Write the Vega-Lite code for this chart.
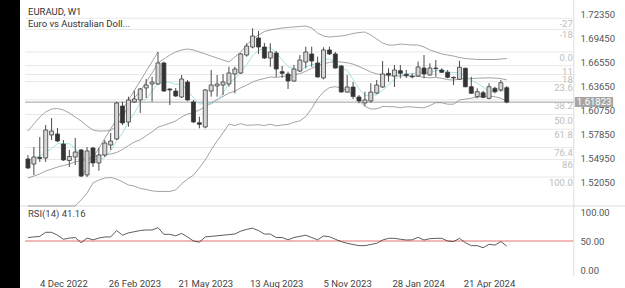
{
"$schema": "https://vega.github.io/schema/vega-lite/v6.json",
"width": 605, "height": 288, "autosize": "none",
"padding": {"left": 20, "top": 0, "right": 0, "bottom": 0},
"background": "#000000",
"config": {"view": {"fill": "#ffffff", "stroke": null}, "font": "Roboto",
  "axis": {"grid": false, "ticks": false, "tickSize": 0, "domain": false, "labelFont": "Roboto", "labelFontSize": 9.5, "labelColor": "#555555"}},
"datasets": {
"c": [
{"d":"2022-10-23","o":1.5495,"h":1.5543,"l":1.5374,"c":1.5386,"up":1.5833,"mid":1.5265,"lo":1.4697,"ma":1.5483,"rsi":56},
{"d":"2022-10-30","o":1.5434,"h":1.5640,"l":1.5302,"c":1.5519,"up":1.5918,"mid":1.5289,"lo":1.4660,"ma":1.5507,"rsi":57},
{"d":"2022-11-06","o":1.5515,"h":1.5761,"l":1.5459,"c":1.5501,"up":1.6002,"mid":1.5314,"lo":1.4626,"ma":1.5531,"rsi":58},
{"d":"2022-11-13","o":1.5507,"h":1.5906,"l":1.5459,"c":1.5845,"up":1.6063,"mid":1.5350,"lo":1.4637,"ma":1.5579,"rsi":65},
{"d":"2022-11-20","o":1.5785,"h":1.5990,"l":1.5724,"c":1.5833,"up":1.6099,"mid":1.5374,"lo":1.4649,"ma":1.5618,"rsi":65},
{"d":"2022-11-27","o":1.5797,"h":1.5869,"l":1.5700,"c":1.5712,"up":1.6105,"mid":1.5398,"lo":1.4691,"ma":1.5683,"rsi":60},
{"d":"2022-12-04","o":1.5676,"h":1.5724,"l":1.5471,"c":1.5483,"up":1.6087,"mid":1.5416,"lo":1.4745,"ma":1.5676,"rsi":53},
{"d":"2022-12-11","o":1.5477,"h":1.5604,"l":1.5398,"c":1.5525,"up":1.6051,"mid":1.5434,"lo":1.4817,"ma":1.5680,"rsi":55},
{"d":"2022-12-18","o":1.5519,"h":1.5749,"l":1.5422,"c":1.5579,"up":1.6002,"mid":1.5459,"lo":1.4916,"ma":1.5626,"rsi":56},
{"d":"2022-12-25","o":1.5604,"h":1.5616,"l":1.5277,"c":1.5289,"up":1.5954,"mid":1.5477,"lo":1.5000,"ma":1.5518,"rsi":47},
{"d":"2023-01-01","o":1.5302,"h":1.5640,"l":1.5277,"c":1.5592,"up":1.5894,"mid":1.5489,"lo":1.5084,"ma":1.5494,"rsi":55},
{"d":"2023-01-08","o":1.5628,"h":1.5640,"l":1.5398,"c":1.5447,"up":1.5845,"mid":1.5525,"lo":1.5205,"ma":1.5486,"rsi":52},
{"d":"2023-01-15","o":1.5447,"h":1.5628,"l":1.5353,"c":1.5543,"up":1.5833,"mid":1.5537,"lo":1.5241,"ma":1.5490,"rsi":55},
{"d":"2023-01-22","o":1.5543,"h":1.5724,"l":1.5519,"c":1.5688,"up":1.5833,"mid":1.5549,"lo":1.5265,"ma":1.5512,"rsi":57},
{"d":"2023-01-29","o":1.5664,"h":1.5809,"l":1.5604,"c":1.5712,"up":1.5839,"mid":1.5555,"lo":1.5271,"ma":1.5596,"rsi":57},
{"d":"2023-02-05","o":1.5737,"h":1.6187,"l":1.5724,"c":1.6172,"up":1.5894,"mid":1.5573,"lo":1.5252,"ma":1.5712,"rsi":68},
{"d":"2023-02-12","o":1.6135,"h":1.6187,"l":1.5906,"c":1.5930,"up":1.6002,"mid":1.5610,"lo":1.5218,"ma":1.5809,"rsi":60},
{"d":"2023-02-19","o":1.5942,"h":1.6248,"l":1.5885,"c":1.6208,"up":1.6135,"mid":1.5658,"lo":1.5181,"ma":1.5942,"rsi":64},
{"d":"2023-02-26","o":1.6184,"h":1.6320,"l":1.6172,"c":1.6220,"up":1.6232,"mid":1.5700,"lo":1.5168,"ma":1.6048,"rsi":66},
{"d":"2023-03-05","o":1.6208,"h":1.6353,"l":1.6051,"c":1.6341,"up":1.6316,"mid":1.5727,"lo":1.5138,"ma":1.6174,"rsi":68},
{"d":"2023-03-12","o":1.6353,"h":1.6461,"l":1.6232,"c":1.6389,"up":1.6425,"mid":1.5776,"lo":1.5127,"ma":1.6217,"rsi":69},
{"d":"2023-03-19","o":1.6401,"h":1.6489,"l":1.6187,"c":1.6425,"up":1.6534,"mid":1.5822,"lo":1.5110,"ma":1.6316,"rsi":69},
{"d":"2023-03-26","o":1.6401,"h":1.6788,"l":1.6389,"c":1.6655,"up":1.6655,"mid":1.5879,"lo":1.5103,"ma":1.6406,"rsi":73},
{"d":"2023-04-02","o":1.6655,"h":1.6671,"l":1.6308,"c":1.6316,"up":1.6703,"mid":1.5903,"lo":1.5103,"ma":1.6425,"rsi":61.5},
{"d":"2023-04-09","o":1.6341,"h":1.6349,"l":1.6147,"c":1.6329,"up":1.6751,"mid":1.5927,"lo":1.5103,"ma":1.6423,"rsi":61.5},
{"d":"2023-04-16","o":1.6316,"h":1.6353,"l":1.6244,"c":1.6256,"up":1.6788,"mid":1.5955,"lo":1.5122,"ma":1.6396,"rsi":59},
{"d":"2023-04-23","o":1.6244,"h":1.6510,"l":1.6232,"c":1.6461,"up":1.6812,"mid":1.6004,"lo":1.5196,"ma":1.6403,"rsi":63},
{"d":"2023-04-30","o":1.6425,"h":1.6449,"l":1.6199,"c":1.6208,"up":1.6824,"mid":1.6038,"lo":1.5252,"ma":1.6314,"rsi":57},
{"d":"2023-05-07","o":1.6184,"h":1.6208,"l":1.5930,"c":1.5942,"up":1.6812,"mid":1.6056,"lo":1.5300,"ma":1.6239,"rsi":50},
{"d":"2023-05-14","o":1.5933,"h":1.6006,"l":1.5866,"c":1.5914,"up":1.6788,"mid":1.6088,"lo":1.5388,"ma":1.6157,"rsi":48},
{"d":"2023-05-21","o":1.5882,"h":1.6341,"l":1.5866,"c":1.6329,"up":1.6764,"mid":1.6124,"lo":1.5484,"ma":1.6172,"rsi":57},
{"d":"2023-05-28","o":1.6316,"h":1.6570,"l":1.6248,"c":1.6389,"up":1.6739,"mid":1.6172,"lo":1.5605,"ma":1.6157,"rsi":58},
{"d":"2023-06-04","o":1.6377,"h":1.6510,"l":1.6248,"c":1.6401,"up":1.6715,"mid":1.6214,"lo":1.5713,"ma":1.6196,"rsi":59},
{"d":"2023-06-11","o":1.6389,"h":1.6522,"l":1.6268,"c":1.6425,"up":1.6691,"mid":1.6251,"lo":1.5811,"ma":1.6292,"rsi":60},
{"d":"2023-06-18","o":1.6401,"h":1.6610,"l":1.6368,"c":1.6534,"up":1.6667,"mid":1.6292,"lo":1.5917,"ma":1.6416,"rsi":61},
{"d":"2023-06-25","o":1.6522,"h":1.6610,"l":1.6289,"c":1.6582,"up":1.6727,"mid":1.6313,"lo":1.5899,"ma":1.6466,"rsi":62},
{"d":"2023-07-02","o":1.6534,"h":1.6776,"l":1.6522,"c":1.6764,"up":1.6788,"mid":1.6355,"lo":1.5922,"ma":1.6541,"rsi":67},
{"d":"2023-07-09","o":1.6751,"h":1.6893,"l":1.6731,"c":1.6860,"up":1.6872,"mid":1.6387,"lo":1.5902,"ma":1.6633,"rsi":70},
{"d":"2023-07-16","o":1.6848,"h":1.7074,"l":1.6832,"c":1.6981,"up":1.6945,"mid":1.6425,"lo":1.5905,"ma":1.6744,"rsi":72},
{"d":"2023-07-23","o":1.6957,"h":1.7041,"l":1.6764,"c":1.6848,"up":1.6993,"mid":1.6451,"lo":1.5909,"ma":1.6807,"rsi":68},
{"d":"2023-07-30","o":1.6848,"h":1.6896,"l":1.6703,"c":1.6715,"up":1.7035,"mid":1.6467,"lo":1.5899,"ma":1.6834,"rsi":62},
{"d":"2023-08-06","o":1.6715,"h":1.6893,"l":1.6610,"c":1.6788,"up":1.7054,"mid":1.6485,"lo":1.5916,"ma":1.6838,"rsi":62},
{"d":"2023-08-13","o":1.6776,"h":1.6800,"l":1.6486,"c":1.6582,"up":1.7066,"mid":1.6481,"lo":1.5896,"ma":1.6783,"rsi":56},
{"d":"2023-08-20","o":1.6550,"h":1.6619,"l":1.6474,"c":1.6530,"up":1.7078,"mid":1.6492,"lo":1.5906,"ma":1.6693,"rsi":56},
{"d":"2023-08-27","o":1.6522,"h":1.6550,"l":1.6341,"c":1.6437,"up":1.7084,"mid":1.6498,"lo":1.5912,"ma":1.6611,"rsi":52},
{"d":"2023-09-03","o":1.6437,"h":1.6631,"l":1.6429,"c":1.6582,"up":1.7090,"mid":1.6514,"lo":1.5938,"ma":1.6585,"rsi":56},
{"d":"2023-09-10","o":1.6558,"h":1.6751,"l":1.6546,"c":1.6691,"up":1.7096,"mid":1.6526,"lo":1.5956,"ma":1.6565,"rsi":58},
{"d":"2023-09-17","o":1.6667,"h":1.6852,"l":1.6591,"c":1.6788,"up":1.7102,"mid":1.6555,"lo":1.6008,"ma":1.6606,"rsi":60},
{"d":"2023-09-24","o":1.6764,"h":1.6852,"l":1.6610,"c":1.6679,"up":1.7078,"mid":1.6591,"lo":1.6104,"ma":1.6635,"rsi":56},
{"d":"2023-10-01","o":1.6655,"h":1.6731,"l":1.6477,"c":1.6486,"up":1.7017,"mid":1.6620,"lo":1.6223,"ma":1.6645,"rsi":52},
{"d":"2023-10-08","o":1.6474,"h":1.6845,"l":1.6458,"c":1.6812,"up":1.6981,"mid":1.6644,"lo":1.6307,"ma":1.6691,"rsi":58.6},
{"d":"2023-10-15","o":1.6812,"h":1.6852,"l":1.6751,"c":1.6764,"up":1.6969,"mid":1.6663,"lo":1.6357,"ma":1.6706,"rsi":57.4},
{"d":"2023-10-22","o":1.6764,"h":1.6788,"l":1.6588,"c":1.6594,"up":1.6975,"mid":1.6672,"lo":1.6369,"ma":1.6667,"rsi":53},
{"d":"2023-10-29","o":1.6619,"h":1.6631,"l":1.6301,"c":1.6304,"up":1.6981,"mid":1.6666,"lo":1.6351,"ma":1.6592,"rsi":49},
{"d":"2023-11-05","o":1.6304,"h":1.6510,"l":1.6296,"c":1.6365,"up":1.6993,"mid":1.6658,"lo":1.6323,"ma":1.6568,"rsi":46},
{"d":"2023-11-12","o":1.6365,"h":1.6425,"l":1.6220,"c":1.6250,"up":1.7011,"mid":1.6641,"lo":1.6271,"ma":1.6455,"rsi":44},
{"d":"2023-11-19","o":1.6244,"h":1.6268,"l":1.6168,"c":1.6196,"up":1.7023,"mid":1.6612,"lo":1.6201,"ma":1.6342,"rsi":42},
{"d":"2023-11-26","o":1.6172,"h":1.6308,"l":1.6135,"c":1.6208,"up":1.7029,"mid":1.6580,"lo":1.6131,"ma":1.6265,"rsi":42},
{"d":"2023-12-03","o":1.6196,"h":1.6410,"l":1.6175,"c":1.6304,"up":1.6993,"mid":1.6546,"lo":1.6099,"ma":1.6265,"rsi":44},
{"d":"2023-12-10","o":1.6292,"h":1.6449,"l":1.6280,"c":1.6389,"up":1.6945,"mid":1.6523,"lo":1.6101,"ma":1.6269,"rsi":46},
{"d":"2023-12-17","o":1.6365,"h":1.6679,"l":1.6353,"c":1.6522,"up":1.6896,"mid":1.6513,"lo":1.6130,"ma":1.6324,"rsi":51.7},
{"d":"2023-12-24","o":1.6530,"h":1.6591,"l":1.6429,"c":1.6510,"up":1.6872,"mid":1.6500,"lo":1.6128,"ma":1.6388,"rsi":54.6},
{"d":"2023-12-31","o":1.6498,"h":1.6631,"l":1.6365,"c":1.6570,"up":1.6872,"mid":1.6499,"lo":1.6126,"ma":1.6460,"rsi":54.6},
{"d":"2024-01-07","o":1.6562,"h":1.6631,"l":1.6470,"c":1.6530,"up":1.6884,"mid":1.6499,"lo":1.6114,"ma":1.6506,"rsi":53},
{"d":"2024-01-14","o":1.6518,"h":1.6570,"l":1.6474,"c":1.6501,"up":1.6878,"mid":1.6502,"lo":1.6126,"ma":1.6529,"rsi":51.7},
{"d":"2024-01-21","o":1.6494,"h":1.6530,"l":1.6470,"c":1.6487,"up":1.6872,"mid":1.6498,"lo":1.6124,"ma":1.6523,"rsi":52},
{"d":"2024-01-28","o":1.6498,"h":1.6671,"l":1.6489,"c":1.6606,"up":1.6872,"mid":1.6494,"lo":1.6116,"ma":1.6541,"rsi":56.4},
{"d":"2024-02-04","o":1.6594,"h":1.6751,"l":1.6470,"c":1.6522,"up":1.6848,"mid":1.6481,"lo":1.6114,"ma":1.6532,"rsi":51.7},
{"d":"2024-02-11","o":1.6510,"h":1.6651,"l":1.6501,"c":1.6594,"up":1.6812,"mid":1.6476,"lo":1.6140,"ma":1.6544,"rsi":54},
{"d":"2024-02-18","o":1.6594,"h":1.6691,"l":1.6489,"c":1.6587,"up":1.6788,"mid":1.6482,"lo":1.6176,"ma":1.6561,"rsi":54.6},
{"d":"2024-02-25","o":1.6570,"h":1.6591,"l":1.6534,"c":1.6542,"up":1.6764,"mid":1.6469,"lo":1.6174,"ma":1.6571,"rsi":54.6},
{"d":"2024-03-03","o":1.6542,"h":1.6570,"l":1.6470,"c":1.6482,"up":1.6751,"mid":1.6454,"lo":1.6157,"ma":1.6547,"rsi":50},
{"d":"2024-03-10","o":1.6481,"h":1.6492,"l":1.6389,"c":1.6474,"up":1.6739,"mid":1.6448,"lo":1.6157,"ma":1.6539,"rsi":49},
{"d":"2024-03-17","o":1.6458,"h":1.6683,"l":1.6449,"c":1.6603,"up":1.6721,"mid":1.6464,"lo":1.6207,"ma":1.6541,"rsi":54.6},
{"d":"2024-03-24","o":1.6591,"h":1.6600,"l":1.6361,"c":1.6368,"up":1.6709,"mid":1.6464,"lo":1.6219,"ma":1.6497,"rsi":47},
{"d":"2024-03-31","o":1.6368,"h":1.6489,"l":1.6280,"c":1.6289,"up":1.6703,"mid":1.6466,"lo":1.6229,"ma":1.6446,"rsi":42},
{"d":"2024-04-07","o":1.6248,"h":1.6349,"l":1.6228,"c":1.6308,"up":1.6697,"mid":1.6471,"lo":1.6245,"ma":1.6410,"rsi":42},
{"d":"2024-04-14","o":1.6296,"h":1.6320,"l":1.6228,"c":1.6240,"up":1.6697,"mid":1.6473,"lo":1.6249,"ma":1.6362,"rsi":38.4},
{"d":"2024-04-21","o":1.6228,"h":1.6410,"l":1.6216,"c":1.6368,"up":1.6697,"mid":1.6476,"lo":1.6255,"ma":1.6314,"rsi":44.3},
{"d":"2024-04-28","o":1.6349,"h":1.6368,"l":1.6289,"c":1.6308,"up":1.6697,"mid":1.6472,"lo":1.6247,"ma":1.6303,"rsi":43},
{"d":"2024-05-05","o":1.6329,"h":1.6449,"l":1.6308,"c":1.6417,"up":1.6703,"mid":1.6466,"lo":1.6229,"ma":1.6327,"rsi":49},
{"d":"2024-05-12","o":1.6356,"h":1.6377,"l":1.6168,"c":1.61823,"up":1.6709,"mid":1.6451,"lo":1.6193,"ma":1.6304,"rsi":41.16}
],
"fib": [
{"lvl":"-27","p":1.7196},{"lvl":"-18","p":1.7060},{"lvl":"0.0","p":1.6788},{"lvl":"11","p":1.6622},{"lvl":"18","p":1.6516},{"lvl":"23.6","p":1.6431},{"lvl":"38.2","p":1.6211},{"lvl":"50.0","p":1.6032},{"lvl":"61.8","p":1.5854},{"lvl":"76.4","p":1.5634},{"lvl":"86","p":1.5489},{"lvl":"100.0","p":1.5277}
],
"diag": [{"d":"2022-12-25","p":1.5277},{"d":"2023-03-26","p":1.6788}],
"one": [{}]
},
"layer": [
{
"layer": [
{"data": {"name": "fib"}, "mark": {"type": "rule", "color": "#e8e8e8", "strokeWidth": 1},
 "encoding": {
  "y": {"field": "p", "type": "quantitative", "scale": {"domain": [1.4927, 1.7416], "range": [206, 0], "clamp": true}, "title": null,
        "axis": {"orient": "right", "offset": -47, "values": [1.5205,1.5495,1.5785,1.6075,1.6365,1.6655,1.6945,1.7235], "format": ".5f", "title": null, "labelPadding": 2, "labelBaseline": "middle", "labelAlign": "left", "labelFontSize": 9.5, "labelColor": "#555555"}},
  "x": {"datum": 1666180800000, "type": "temporal", "scale": {"type": "utc", "domain": [1666180800000, 1727058240000]}, "title": null},
  "x2": {"datum": 1722332160000}}},
{"data": {"name": "one"}, "mark": {"type": "rule", "color": "#dddddd", "strokeWidth": 1},
 "encoding": {"y": {"datum": 1.4927, "type": "quantitative", "scale": {"domain": [1.4927, 1.7416], "range": [206, 0], "clamp": true}, "title": null}}},
{"data": {"name": "one"}, "mark": {"type": "rule", "color": "#dddddd", "strokeWidth": 1},
 "encoding": {
  "x": {"datum": 1722332160000, "type": "temporal", "scale": {"type": "utc", "domain": [1666180800000, 1727058240000]}, "title": null},
  "y": {"datum": 1.7416, "type": "quantitative", "scale": {"domain": [1.4927, 1.7416], "range": [206, 0], "clamp": true}, "title": null},
  "y2": {"datum": 1.4927}}},
{"data": {"name": "one"}, "mark": {"type": "rule", "color": "#9e9e9e", "strokeWidth": 1},
 "encoding": {
  "y": {"datum": 1.61823, "type": "quantitative", "scale": {"domain": [1.4927, 1.7416], "range": [206, 0], "clamp": true}, "title": null},
  "x": {"datum": 1666180800000, "type": "temporal", "scale": {"type": "utc", "domain": [1666180800000, 1727058240000]}, "title": null},
  "x2": {"datum": 1722332160000}}},
{"data": {"name": "diag"}, "mark": {"type": "line", "color": "#8a8a8a", "strokeWidth": 0.8},
 "encoding": {
  "x": {"field": "d", "type": "temporal", "scale": {"type": "utc", "domain": [1666180800000, 1727058240000]}, "title": null},
  "y": {"field": "p", "type": "quantitative", "scale": {"domain": [1.4927, 1.7416], "range": [206, 0], "clamp": true}, "title": null}}},
{"data": {"name": "c"}, "mark": {"type": "line", "color": "#8c8c8c", "strokeWidth": 0.8},
 "encoding": {
  "x": {"field": "d", "type": "temporal", "scale": {"type": "utc", "domain": [1666180800000, 1727058240000]}, "title": null},
  "y": {"field": "up", "type": "quantitative", "scale": {"domain": [1.4927, 1.7416], "range": [206, 0], "clamp": true}, "title": null}}},
{"data": {"name": "c"}, "mark": {"type": "line", "color": "#8c8c8c", "strokeWidth": 0.8},
 "encoding": {
  "x": {"field": "d", "type": "temporal", "scale": {"type": "utc", "domain": [1666180800000, 1727058240000]}, "title": null},
  "y": {"field": "mid", "type": "quantitative", "scale": {"domain": [1.4927, 1.7416], "range": [206, 0], "clamp": true}, "title": null}}},
{"data": {"name": "c"}, "mark": {"type": "line", "color": "#8c8c8c", "strokeWidth": 0.8},
 "encoding": {
  "x": {"field": "d", "type": "temporal", "scale": {"type": "utc", "domain": [1666180800000, 1727058240000]}, "title": null},
  "y": {"field": "lo", "type": "quantitative", "scale": {"domain": [1.4927, 1.7416], "range": [206, 0], "clamp": true}, "title": null}}},
{"data": {"name": "c"}, "mark": {"type": "line", "color": "#a8e2e6", "strokeWidth": 1},
 "encoding": {
  "x": {"field": "d", "type": "temporal", "scale": {"type": "utc", "domain": [1666180800000, 1727058240000]}, "title": null},
  "y": {"field": "ma", "type": "quantitative", "scale": {"domain": [1.4927, 1.7416], "range": [206, 0], "clamp": true}, "title": null}}},
{"data": {"name": "c"}, "mark": {"type": "rule", "color": "#4a4a4a", "strokeWidth": 1},
 "encoding": {
  "x": {"field": "d", "type": "temporal", "scale": {"type": "utc", "domain": [1666180800000, 1727058240000]}, "title": null},
  "y": {"field": "l", "type": "quantitative", "scale": {"domain": [1.4927, 1.7416], "range": [206, 0], "clamp": true}, "title": null},
  "y2": {"field": "h"}}},
{"data": {"name": "c"}, "mark": {"type": "bar", "size": 4, "stroke": "#3c3c3c", "strokeWidth": 0.8},
 "encoding": {
  "x": {"field": "d", "type": "temporal", "scale": {"type": "utc", "domain": [1666180800000, 1727058240000]}, "title": null},
  "y": {"field": "o", "type": "quantitative", "scale": {"domain": [1.4927, 1.7416], "range": [206, 0], "clamp": true}, "title": null},
  "y2": {"field": "c"},
  "fill": {"condition": {"test": "datum.c >= datum.o", "value": "#d6d6d6"}, "value": "#333333"}}},
{"data": {"name": "fib"}, "mark": {"type": "text", "align": "right", "baseline": "top", "dx": -1, "dy": 1, "fontSize": 9.5, "font": "Roboto", "color": "#bdbdbd"},
 "encoding": {
  "x": {"datum": 1722332160000, "type": "temporal", "scale": {"type": "utc", "domain": [1666180800000, 1727058240000]}, "title": null},
  "y": {"field": "p", "type": "quantitative", "scale": {"domain": [1.4927, 1.7416], "range": [206, 0], "clamp": true}, "title": null},
  "text": {"field": "lvl"}}},
{"data": {"name": "one"}, "mark": {"type": "rect", "color": "#a6a6a6"},
 "encoding": {
  "x": {"datum": 1722435840000, "type": "temporal", "scale": {"type": "utc", "domain": [1666180800000, 1727058240000]}, "title": null},
  "x2": {"datum": 1726358400000},
  "y": {"datum": 1.6243, "type": "quantitative", "scale": {"domain": [1.4927, 1.7416], "range": [206, 0], "clamp": true}, "title": null},
  "y2": {"datum": 1.6122}}},
{"data": {"name": "one"}, "mark": {"type": "text", "align": "left", "baseline": "middle", "dx": 2, "fontSize": 9.5, "font": "Roboto", "color": "#ffffff", "text": "1.61823"},
 "encoding": {
  "x": {"datum": 1722435840000, "type": "temporal", "scale": {"type": "utc", "domain": [1666180800000, 1727058240000]}, "title": null},
  "y": {"datum": 1.61823, "type": "quantitative", "scale": {"domain": [1.4927, 1.7416], "range": [206, 0], "clamp": true}, "title": null}}},
{"data": {"name": "one"}, "mark": {"type": "text", "align": "left", "baseline": "middle", "dx": 3, "fontSize": 9.5, "font": "Roboto", "color": "#333333", "text": "EURAUD, W1"},
 "encoding": {
  "x": {"datum": 1666180800000, "type": "temporal", "scale": {"type": "utc", "domain": [1666180800000, 1727058240000]}, "title": null},
  "y": {"datum": 1.7265, "type": "quantitative", "scale": {"domain": [1.4927, 1.7416], "range": [206, 0], "clamp": true}, "title": null}}},
{"data": {"name": "one"}, "mark": {"type": "text", "align": "left", "baseline": "middle", "dx": 3, "fontSize": 9.5, "font": "Roboto", "color": "#333333", "text": "Euro vs Australian Doll..."},
 "encoding": {
  "x": {"datum": 1666180800000, "type": "temporal", "scale": {"type": "utc", "domain": [1666180800000, 1727058240000]}, "title": null},
  "y": {"datum": 1.7132, "type": "quantitative", "scale": {"domain": [1.4927, 1.7416], "range": [206, 0], "clamp": true}, "title": null}}}
]
},
{
"layer": [
{"data": {"name": "one"}, "mark": {"type": "rule", "color": "#e57373", "strokeWidth": 1},
 "encoding": {
  "y": {"datum": 50, "type": "quantitative", "scale": {"domain": [0, 100], "range": [270, 212]}, "title": null,
        "axis": {"orient": "right", "offset": -47, "values": [0, 50, 100], "format": ".2f", "title": null, "labelPadding": 2, "labelBaseline": "middle", "labelAlign": "left", "labelFontSize": 9.5, "labelColor": "#555555"}},
  "x": {"datum": 1666180800000, "type": "temporal", "scale": {"type": "utc", "domain": [1666180800000, 1727058240000]}, "title": null},
  "x2": {"datum": 1722332160000}}},
{"data": {"name": "one"}, "mark": {"type": "rule", "color": "#dddddd", "strokeWidth": 1},
 "encoding": {
  "x": {"datum": 1722332160000, "type": "temporal", "scale": {"type": "utc", "domain": [1666180800000, 1727058240000]}, "title": null},
  "y": {"datum": 110.34, "type": "quantitative", "scale": {"domain": [0, 100], "range": [270, 212]}, "title": null},
  "y2": {"datum": -10.34}}},
{"data": {"name": "c"}, "mark": {"type": "line", "color": "#333333", "strokeWidth": 0.8},
 "encoding": {
  "x": {"field": "d", "type": "temporal", "scale": {"type": "utc", "domain": [1666180800000, 1727058240000]}, "title": null,
        "axis": {"orient": "bottom", "offset": -12, "values": [1670112000000, 1677369600000, 1684627200000, 1691884800000, 1699142400000, 1706400000000, 1713657600000], "format": "%-d %b %Y", "title": null, "labelPadding": 2, "labelBaseline": "top", "labelFontSize": 9.5, "labelColor": "#444444", "labelFlush": false}},
  "y": {"field": "rsi", "type": "quantitative", "scale": {"domain": [0, 100], "range": [270, 212]}, "title": null}}},
{"data": {"name": "one"}, "mark": {"type": "text", "align": "left", "baseline": "middle", "dx": 3, "fontSize": 9.5, "font": "Roboto", "color": "#444444", "text": "RSI(14) 41.16"},
 "encoding": {
  "x": {"datum": 1666180800000, "type": "temporal", "scale": {"type": "utc", "domain": [1666180800000, 1727058240000]}, "title": null},
  "y": {"datum": 95.7, "type": "quantitative", "scale": {"domain": [0, 100], "range": [270, 212]}, "title": null}}}
]
}
],
"resolve": {"scale": {"y": "independent"}, "axis": {"y": "independent"}}
}
